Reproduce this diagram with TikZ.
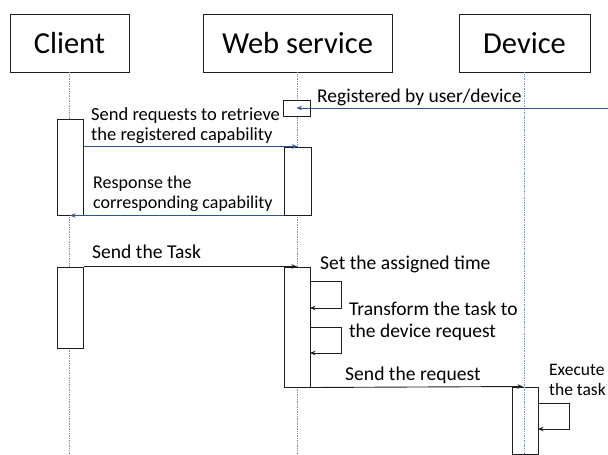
\documentclass[tikz,border=0pt]{standalone}
\usepackage{fontspec}
\setmainfont{Carlito}
\usetikzlibrary{arrows.meta}
\definecolor{msgblue}{RGB}{47,85,151}
\definecolor{lifeblue}{RGB}{125,145,200}
\definecolor{boxline}{RGB}{30,30,30}
\begin{document}
\begin{tikzpicture}[x=1pt,y=-1pt,
  head/.style={draw=boxline, line width=0.9pt, fill=white, inner sep=0pt, minimum height=58pt, font=\fontsize{30.5}{36}\selectfont},
  act/.style={draw=boxline, line width=1pt, fill=white, inner sep=0pt},
  life/.style={draw=lifeblue, densely dotted, line width=0.7pt},
  lbl/.style={anchor=base west, inner sep=0pt, font=\fontsize{#1}{#1}\selectfont},
  msgb/.style={draw=msgblue, line width=0.9pt, -{Stealth[length=5.5pt,width=4.5pt]}},
  msgk/.style={draw=boxline, line width=0.9pt, -{Stealth[length=5.5pt,width=4.5pt]}}]
\useasboundingbox (0,0) rectangle (608,455);
\coordinate (bottom) at (0,455);
% headers
\node[head, minimum width=119pt] (client) at (69.5,43) {Client};
\node[head, minimum width=189pt] (web) at (297.5,43) {Web service};
\node[head, minimum width=131pt] (device) at (524.5,43) {Device};
% lifelines
\draw[life] (client.south) -- (client.south |- bottom);
\draw[life] (web.south) -- (web.south |- bottom);
% activation boxes
\node[act, minimum width=27pt, minimum height=16pt] (reg) at (296.5,108) {};
\node[act, minimum width=26pt, minimum height=96pt] (c1) at (70,167) {};
\node[act, minimum width=27pt, minimum height=68pt] (w1) at (297.5,181) {};
\node[act, minimum width=26pt, minimum height=81pt] (c2) at (70,307.5) {};
\node[act, minimum width=26pt, minimum height=120pt] (w2) at (297,327) {};
\node[act, fill=none, minimum width=26pt, minimum height=67pt] (d1) at (525,420.5) {};
\draw[life] (device.south) -- (device.south |- bottom);
% message end points
\coordinate (ext) at (608,108);
\coordinate (s1a) at (310,281);
\coordinate (s1b) at (310,308);
\coordinate (s2a) at (310,327);
\coordinate (s2b) at (310,353);
\coordinate (s3a) at (538,403);
\coordinate (s3b) at (538,429);
% messages
\draw[msgb] (ext) -- (reg.center);
\draw[msgb] (c1.east |- w1.north) -- (w1.north);
\draw[msgb] (w1.south west) -- (c1.south);
\draw[msgk] (c2.north east) -- (w2.north);
\draw[msgk] (s1a) -- ++(31,0) |- (s1b);
\draw[msgk] (s2a) -- ++(31,0) |- (s2b);
\draw[msgk] (w2.south east) -- ([xshift=-2pt]d1.north);
\draw[msgk] (s3a) -- ++(31,0) |- (s3b);
% labels
\node[lbl=19.5] (t1) at (317,102) {Registered by user/device};
\node[lbl=18.5] (t2a) at (91,120) {Send requests to retrieve};
\node[lbl=18.5] (t2b) at (91,140) {the registered capability};
\node[lbl=18] (t3a) at (93,188) {Response the};
\node[lbl=18] (t3b) at (93,208) {corresponding capability};
\node[lbl=19.6] (t4) at (92,258) {Send the Task};
\node[lbl=19.6] (t5) at (320,269) {Set the assigned time};
\node[lbl=19.5] (t6a) at (349,315) {Transform the task to};
\node[lbl=19.5] (t6b) at (349,337) {the device request};
\node[lbl=19.6] (t7) at (345,380) {Send the request};
\node[lbl=17.5] (t8a) at (549,375) {Execute};
\node[lbl=17.5] (t8b) at (549,395) {the task};
\end{tikzpicture}
\end{document}
